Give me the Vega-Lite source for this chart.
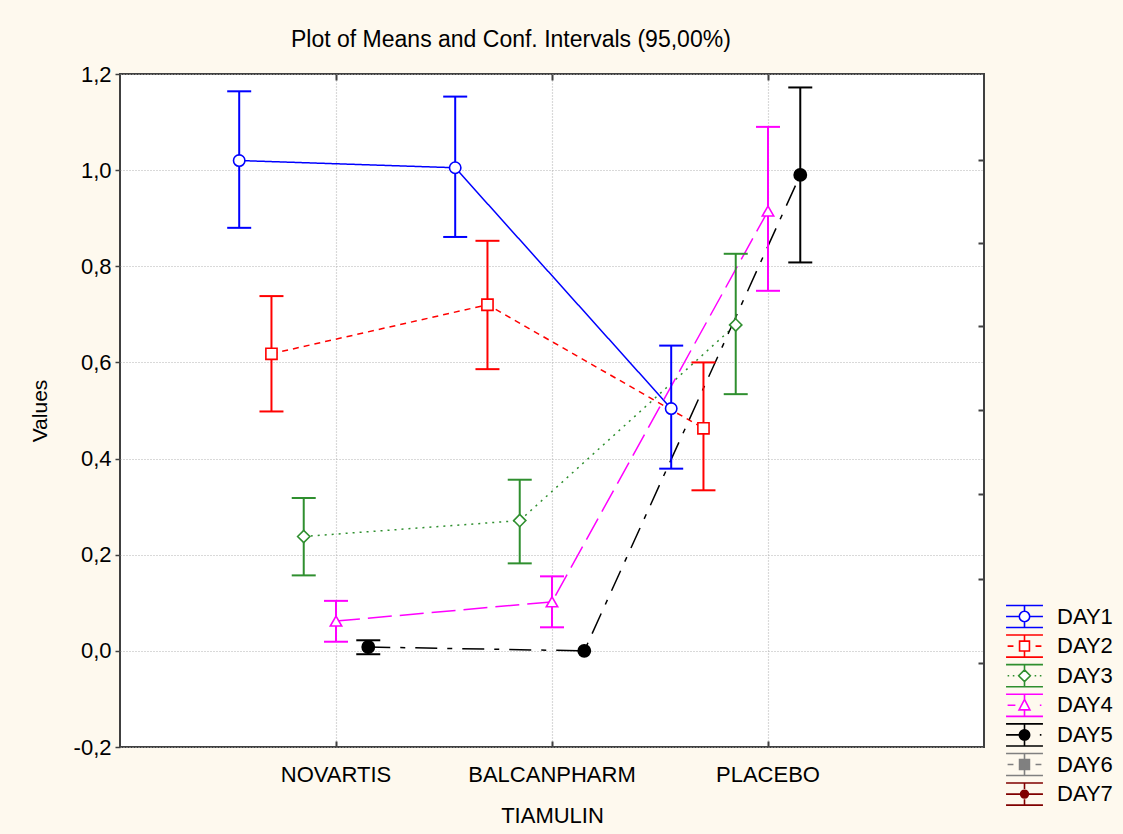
{
  "$schema": "https://vega.github.io/schema/vega-lite/v6.json",
  "width": 864,
  "height": 673,
  "autosize": {"type": "none"},
  "padding": {"left": 120, "top": 74, "right": 139, "bottom": 87},
  "background": "#FEF9EE",
  "title": {"text": "Plot of Means and Conf. Intervals (95,00%)", "frame": "group", "anchor": "start", "dx": 171, "offset": -7, "baseline": "alphabetic", "fontSize": 23, "fontWeight": "normal", "font": "Liberation Sans", "color": "#000000"},
  "config": {
    "font": "Liberation Sans",
    "view": {"stroke": "#404040", "strokeWidth": 2, "fill": "#FFFFFF"},
    "locale": {"number": {"decimal": ",", "thousands": ".", "grouping": [3], "currency": ["", ""], "minus": "-"}},
    "axis": {"labelFont": "Liberation Sans", "titleFont": "Liberation Sans", "labelColor": "#000000", "titleColor": "#000000", "labelFontSize": 22, "titleFontSize": 22, "labelFontWeight": "normal", "titleFontWeight": "normal", "domain": false, "tickColor": "#404040", "gridColor": "#B4B4B4", "gridDash": [1, 2], "gridWidth": 1.2}
  },
  "data": {"values": [
    {"drug": "NOVARTIS", "day": "DAY1", "mean": 1.020, "lo": 0.880, "hi": 1.164},
    {"drug": "BALCANPHARM", "day": "DAY1", "mean": 1.005, "lo": 0.861, "hi": 1.153},
    {"drug": "PLACEBO", "day": "DAY1", "mean": 0.504, "lo": 0.379, "hi": 0.635},
    {"drug": "NOVARTIS", "day": "DAY2", "mean": 0.618, "lo": 0.498, "hi": 0.738},
    {"drug": "BALCANPHARM", "day": "DAY2", "mean": 0.720, "lo": 0.586, "hi": 0.853},
    {"drug": "PLACEBO", "day": "DAY2", "mean": 0.463, "lo": 0.334, "hi": 0.600},
    {"drug": "NOVARTIS", "day": "DAY3", "mean": 0.238, "lo": 0.157, "hi": 0.318},
    {"drug": "BALCANPHARM", "day": "DAY3", "mean": 0.271, "lo": 0.182, "hi": 0.356},
    {"drug": "PLACEBO", "day": "DAY3", "mean": 0.678, "lo": 0.534, "hi": 0.826},
    {"drug": "NOVARTIS", "day": "DAY4", "mean": 0.062, "lo": 0.019, "hi": 0.104},
    {"drug": "BALCANPHARM", "day": "DAY4", "mean": 0.102, "lo": 0.049, "hi": 0.155},
    {"drug": "PLACEBO", "day": "DAY4", "mean": 0.915, "lo": 0.749, "hi": 1.090},
    {"drug": "NOVARTIS", "day": "DAY5", "mean": 0.008, "lo": -0.007, "hi": 0.022},
    {"drug": "BALCANPHARM", "day": "DAY5", "mean": 0.000, "lo": 0.000, "hi": 0.000},
    {"drug": "PLACEBO", "day": "DAY5", "mean": 0.990, "lo": 0.808, "hi": 1.172}
  ]},
  "encoding": {
    "x": {"field": "drug", "type": "nominal",
      "scale": {"type": "band", "domain": ["NOVARTIS", "BALCANPHARM", "PLACEBO"], "paddingInner": 0, "paddingOuter": 0.5},
      "axis": null},
    "xOffset": {"field": "day", "type": "nominal", "scale": {"type": "point", "domain": ["DAY1", "DAY2", "DAY3", "DAY4", "DAY5", "DAY6", "DAY7"], "padding": 0.347}},
    "color": {"field": "day", "type": "nominal", "title": null,
      "scale": {"domain": ["DAY1", "DAY2", "DAY3", "DAY4", "DAY5", "DAY6", "DAY7"], "range": ["#0000FF", "#FF0000", "#2F8F2F", "#FF00FF", "#000000", "#808080", "#800000"]},
      "legend": {"orient": "none", "legendX": 890.5, "legendY": 528.5, "padding": 0, "symbolSize": 676, "rowPadding": -0.4, "labelOffset": 18.5, "labelFontSize": 22, "labelFont": "Liberation Sans", "labelColor": "#000000",
        "encode": {"symbols": {"update": {
          "fill": {"signal": "datum.value === 'DAY5' ? '#000000' : datum.value === 'DAY6' ? '#808080' : datum.value === 'DAY7' ? '#800000' : '#FFFFFF'"},
          "strokeWidth": {"value": 1.6},
          "opacity": {"value": 1},
          "shape": {"signal": "'M-1.42,-0.85H1.42M-1.42,0.85H1.42M0,-0.85V-0.4M0,0.4V0.85' + (datum.value === 'DAY1' ? 'M-1.42,0H-0.4M0.4,0H1.42M0.4,0A0.4,0.4,0,1,1,-0.4,0A0.4,0.4,0,1,1,0.4,0Z' : datum.value === 'DAY2' ? 'M-1.3,0H-0.85M0.85,0H1.3M-0.38,-0.38H0.38V0.38H-0.38Z' : datum.value === 'DAY3' ? 'M-1.3,0H-1.18M-0.9,0H-0.78M0.78,0H0.9M1.18,0H1.3M0,-0.45L0.45,0L0,0.45L-0.45,0Z' : datum.value === 'DAY4' ? 'M-1.3,0H-0.7M1.18,0H1.3M0,-0.45L0.42,0.35H-0.42Z' : datum.value === 'DAY5' ? 'M-1.42,0H-0.4M1.18,0H1.3M0.4,0A0.4,0.4,0,1,1,-0.4,0A0.4,0.4,0,1,1,0.4,0Z' : datum.value === 'DAY6' ? 'M-1.3,0H-0.85M0.85,0H1.3M-0.38,-0.38H0.38V0.38H-0.38Z' : 'M-1.42,0H-0.3M0.3,0H1.42M0.3,0A0.3,0.3,0,1,1,-0.3,0A0.3,0.3,0,1,1,0.3,0Z')"}
        }}}
      }
    }
  },
  "layer": [
    {
      "mark": {"type": "line", "strokeWidth": 1.5},
      "encoding": {
        "x": {"field": "drug", "type": "nominal", "title": "TIAMULIN",
          "scale": {"type": "band", "domain": ["NOVARTIS", "BALCANPHARM", "PLACEBO"], "paddingInner": 0, "paddingOuter": 0.5},
          "axis": {"orient": "bottom", "labelAngle": 0, "grid": true, "tickSize": -6, "tickWidth": 2, "labelPadding": 23, "titlePadding": 20}},
        "y": {"field": "mean", "type": "quantitative", "title": "Values",
          "scale": {"domain": [-0.2, 1.2], "nice": false, "zero": false},
          "axis": {"orient": "left", "values": [-0.2, 0, 0.2, 0.4, 0.6, 0.8, 1.0, 1.2], "format": ".1f", "grid": true, "tickSize": 5, "tickWidth": 1.5, "labelPadding": 4, "titlePadding": 23, "titleFontSize": 21}},
        "strokeDash": {"field": "day", "type": "nominal", "legend": null,
          "scale": {"range": [[1, 0], [6, 5], [2, 5], [24, 8], [22, 10, 5, 10]]}},
        "order": {"value": null}
      }
    },
    {
      "mark": {"type": "rule", "strokeWidth": 2},
      "encoding": {
        "x": {"field": "drug", "type": "nominal",
          "scale": {"type": "band", "domain": ["NOVARTIS", "BALCANPHARM", "PLACEBO"], "paddingInner": 0, "paddingOuter": 0.5},
          "axis": {"orient": "top", "title": null, "labels": false, "grid": false, "tickSize": -6, "tickWidth": 2}},
        "y": {"field": "lo", "type": "quantitative", "title": null,
          "scale": {"domain": [-0.2, 1.2], "nice": false, "zero": false},
          "axis": {"orient": "right", "title": null, "labels": false, "grid": false, "values": [-0.025, 0.149, 0.326, 0.501, 0.675, 0.848, 1.022], "tickSize": -6, "tickWidth": 2}},
        "y2": {"field": "hi"}
      }
    },
    {
      "transform": [{"filter": "datum.hi > datum.lo"}],
      "mark": {"type": "point", "shape": "M-1,0H1", "size": 576, "filled": false, "strokeWidth": 2, "opacity": 1},
      "encoding": {
        "y": {"field": "hi", "type": "quantitative", "scale": {"domain": [-0.2, 1.2], "nice": false, "zero": false}, "axis": null}
      }
    },
    {
      "transform": [{"filter": "datum.hi > datum.lo"}],
      "mark": {"type": "point", "shape": "M-1,0H1", "size": 576, "filled": false, "strokeWidth": 2, "opacity": 1},
      "encoding": {
        "y": {"field": "lo", "type": "quantitative", "scale": {"domain": [-0.2, 1.2], "nice": false, "zero": false}, "axis": null}
      }
    },
    {
      "transform": [{"filter": "datum.day === 'DAY1'"}],
      "mark": {"type": "point", "shape": "circle", "size": 130, "filled": false, "fill": "#FFFFFF", "fillOpacity": 1, "strokeWidth": 1.6, "opacity": 1},
      "encoding": {"y": {"field": "mean", "type": "quantitative", "scale": {"domain": [-0.2, 1.2], "nice": false, "zero": false}, "axis": null}}
    },
    {
      "transform": [{"filter": "datum.day === 'DAY2'"}],
      "mark": {"type": "point", "shape": "square", "size": 125, "filled": false, "fill": "#FFFFFF", "fillOpacity": 1, "strokeWidth": 1.6, "opacity": 1},
      "encoding": {"y": {"field": "mean", "type": "quantitative", "scale": {"domain": [-0.2, 1.2], "nice": false, "zero": false}, "axis": null}}
    },
    {
      "transform": [{"filter": "datum.day === 'DAY3'"}],
      "mark": {"type": "point", "shape": "diamond", "size": 150, "filled": false, "fill": "#FFFFFF", "fillOpacity": 1, "strokeWidth": 1.6, "opacity": 1},
      "encoding": {"y": {"field": "mean", "type": "quantitative", "scale": {"domain": [-0.2, 1.2], "nice": false, "zero": false}, "axis": null}}
    },
    {
      "transform": [{"filter": "datum.day === 'DAY4'"}],
      "mark": {"type": "point", "shape": "triangle-up", "size": 130, "filled": false, "fill": "#FFFFFF", "fillOpacity": 1, "strokeWidth": 1.6, "opacity": 1},
      "encoding": {"y": {"field": "mean", "type": "quantitative", "scale": {"domain": [-0.2, 1.2], "nice": false, "zero": false}, "axis": null}}
    },
    {
      "transform": [{"filter": "datum.day === 'DAY5'"}],
      "mark": {"type": "point", "shape": "circle", "size": 150, "filled": false, "fill": "#000000", "fillOpacity": 1, "strokeWidth": 1.6, "opacity": 1},
      "encoding": {"y": {"field": "mean", "type": "quantitative", "scale": {"domain": [-0.2, 1.2], "nice": false, "zero": false}, "axis": null}}
    }
  ]
}
